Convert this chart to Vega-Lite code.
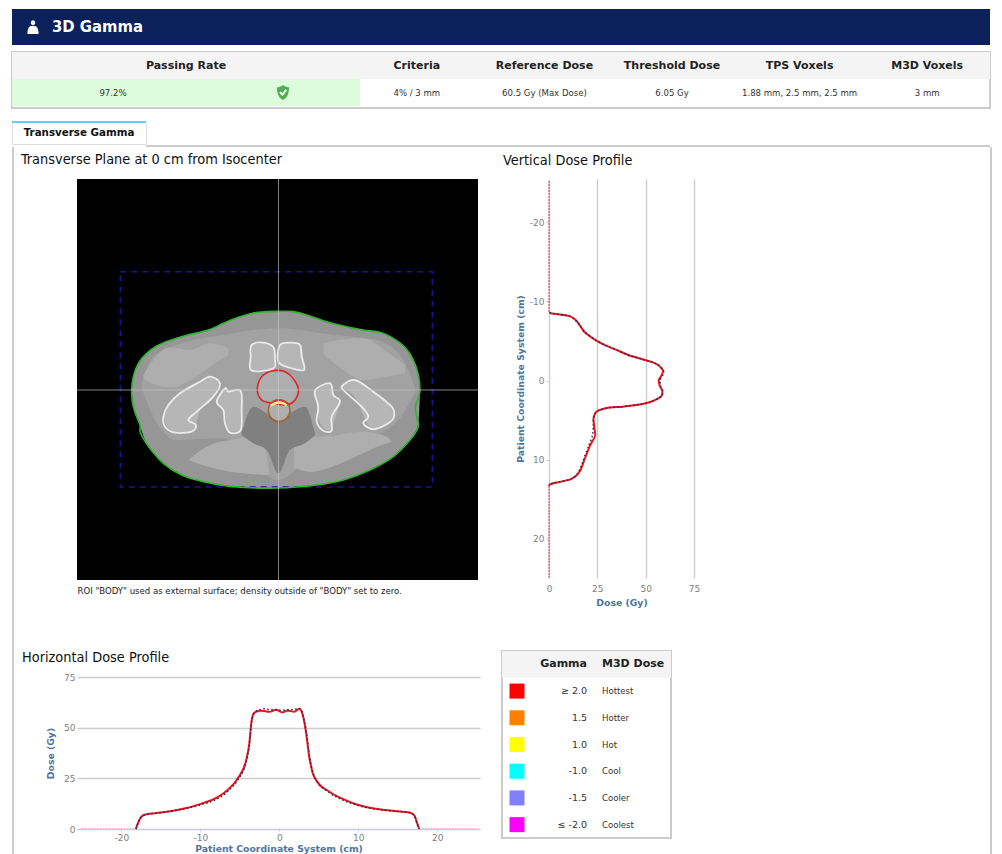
{
"$schema":"https://vega.github.io/schema/vega-lite/v6.json",
"padding":{"left":10,"top":9,"right":10,"bottom":0},
"background":"white",
"spacing":0,
"config":{"view":{"stroke":null},"font":"DejaVu Sans","concat":{"spacing":0},
 "axis":{"labelColor":"#808080","labelFontSize":9,"labelFontWeight":"normal","labelFlush":false,"labelOverlap":false,"labelExpr":"'' + datum.value","titleColor":"#4d759e","titleFontSize":9.3,"titleFontWeight":"bold","tickColor":"#c0d0e0","domainColor":"#c0d0e0","gridColor":"#cccccc","gridWidth":1.4}},
"datasets":{
"table":[{"column":"Criteria","value":"4% / 3 mm"},{"column":"Reference Dose","value":"60.5 Gy (Max Dose)"},{"column":"Threshold Dose","value":"6.05 Gy"},{"column":"TPS Voxels","value":"1.88 mm, 2.5 mm, 2.5 mm"},{"column":"M3D Voxels","value":"3 mm"}],
"legend":[{"gamma":"≥ 2.0","dose":"Hottest"},{"gamma":"1.5","dose":"Hotter"},{"gamma":"1.0","dose":"Hot"},{"gamma":"-1.0","dose":"Cool"},{"gamma":"-1.5","dose":"Cooler"},{"gamma":"≤ -2.0","dose":"Coolest"}],
"verticalTails":[{"part":"top","position":-25.2,"dose":0},{"part":"top","position":-8.6,"dose":0},{"part":"bottom","position":13.3,"dose":0},{"part":"bottom","position":24.9,"dose":0}],
"horizontalTails":[{"part":"left","position":-25,"dose":0.2},{"part":"left","position":-18.14,"dose":0.2},{"part":"right","position":17.7,"dose":0.2},{"part":"right","position":25,"dose":0.2}],
"vertical":[{"position":-8.6,"m3d":0.2,"tps":0.2},{"position":-8.5,"m3d":1,"tps":1},{"position":-8.44,"m3d":2.6,"tps":2.6},{"position":-8.27,"m3d":7.8,"tps":7.6},{"position":-8.1,"m3d":11,"tps":10.8},{"position":-7.8,"m3d":13,"tps":12.8},{"position":-7.4,"m3d":14.7,"tps":14.6},{"position":-6.75,"m3d":16.5,"tps":16.5},{"position":-6.1,"m3d":18.5,"tps":18.5},{"position":-5.06,"m3d":24.3,"tps":24.3},{"position":-4.4,"m3d":29.5,"tps":29.5},{"position":-3.8,"m3d":35.5,"tps":35.5},{"position":-3.16,"m3d":41.6,"tps":41.6},{"position":-2.6,"m3d":49.7,"tps":49.7},{"position":-2.3,"m3d":53.7,"tps":53.7},{"position":-1.9,"m3d":56.8,"tps":57},{"position":-1.27,"m3d":59,"tps":59.3},{"position":-0.63,"m3d":58.2,"tps":58.8},{"position":-0.08,"m3d":56.8,"tps":57.5},{"position":0.63,"m3d":57.2,"tps":57.6},{"position":1.27,"m3d":58.6,"tps":58.8},{"position":1.9,"m3d":58.4,"tps":58.6},{"position":2.3,"m3d":56.3,"tps":56.3},{"position":2.74,"m3d":52,"tps":52},{"position":3.03,"m3d":46.8,"tps":46.8},{"position":3.3,"m3d":38,"tps":38},{"position":3.46,"m3d":30,"tps":30},{"position":3.8,"m3d":25.5,"tps":25.5},{"position":4.13,"m3d":23.9,"tps":23.9},{"position":4.85,"m3d":23,"tps":23},{"position":5.9,"m3d":23.4,"tps":22.9},{"position":6.96,"m3d":23.9,"tps":22.5},{"position":8.44,"m3d":20.8,"tps":20.2},{"position":10.1,"m3d":18.2,"tps":17.7},{"position":11.2,"m3d":16.5,"tps":16.1},{"position":12,"m3d":14.2,"tps":14},{"position":12.45,"m3d":11.3,"tps":11.3},{"position":12.74,"m3d":6.9,"tps":6.9},{"position":12.95,"m3d":2.6,"tps":2.6},{"position":13.16,"m3d":0.3,"tps":0.3},{"position":13.3,"m3d":0,"tps":0}],
"horizontal":[{"position":-18.14,"m3d":0,"tps":0},{"position":-17.85,"m3d":3.3,"tps":3.3},{"position":-17.4,"m3d":6.3,"tps":6.2},{"position":-16.9,"m3d":7.2,"tps":7.1},{"position":-15,"m3d":8.1,"tps":8},{"position":-12.9,"m3d":9.4,"tps":9.3},{"position":-9.9,"m3d":12.4,"tps":12},{"position":-7.8,"m3d":15.7,"tps":15},{"position":-6.5,"m3d":19.4,"tps":18.6},{"position":-5.3,"m3d":24.7,"tps":24},{"position":-4.2,"m3d":33.8,"tps":33},{"position":-3.8,"m3d":42,"tps":41},{"position":-3.5,"m3d":53.5,"tps":53},{"position":-3.16,"m3d":57.3,"tps":57.3},{"position":-2.5,"m3d":58.3,"tps":58.8},{"position":-1.9,"m3d":58.2,"tps":59.3},{"position":-1.27,"m3d":57.8,"tps":59},{"position":-0.42,"m3d":58.8,"tps":58.9},{"position":0.42,"m3d":57.5,"tps":58.6},{"position":1.05,"m3d":58.5,"tps":58.8},{"position":1.9,"m3d":57.8,"tps":59},{"position":2.53,"m3d":59.3,"tps":59.5},{"position":2.95,"m3d":56.5,"tps":57},{"position":3.38,"m3d":47.8,"tps":49},{"position":3.8,"m3d":35.4,"tps":36.5},{"position":4.2,"m3d":28,"tps":28.6},{"position":4.85,"m3d":23,"tps":23},{"position":6.1,"m3d":19,"tps":18.6},{"position":7.8,"m3d":15.2,"tps":14.7},{"position":9.9,"m3d":12,"tps":11.7},{"position":12.4,"m3d":9.9,"tps":9.7},{"position":14.6,"m3d":8.9,"tps":8.8},{"position":16.5,"m3d":8.1,"tps":8},{"position":17.1,"m3d":6.6,"tps":6.6},{"position":17.4,"m3d":3.3,"tps":3.3},{"position":17.7,"m3d":0,"tps":0}],
"regions":[
{"s":"body","t":"fat","c":65,"top":390,"bot":390},{"s":"body","t":"fat","c":70,"top":350,"bot":440},{"s":"body","t":"fat","c":85,"top":310,"bot":483},{"s":"body","t":"fat","c":110,"top":280,"bot":552},{"s":"body","t":"fat","c":140,"top":258,"bot":590},{"s":"body","t":"fat","c":175,"top":243,"bot":620},{"s":"body","t":"fat","c":230,"top":226,"bot":650},{"s":"body","t":"fat","c":295,"top":210,"bot":668},{"s":"body","t":"fat","c":340,"top":190,"bot":676},{"s":"body","t":"fat","c":385,"top":172,"bot":681},{"s":"body","t":"fat","c":430,"top":159,"bot":683},{"s":"body","t":"fat","c":470,"top":155,"bot":684},{"s":"body","t":"fat","c":505,"top":154,"bot":684},{"s":"body","t":"fat","c":550,"top":155,"bot":681},{"s":"body","t":"fat","c":590,"top":165,"bot":677},{"s":"body","t":"fat","c":640,"top":182,"bot":672},{"s":"body","t":"fat","c":700,"top":198,"bot":660},{"s":"body","t":"fat","c":760,"top":210,"bot":638},{"s":"body","t":"fat","c":810,"top":217,"bot":614},{"s":"body","t":"fat","c":850,"top":235,"bot":590},{"s":"body","t":"fat","c":885,"top":262,"bot":555},{"s":"body","t":"fat","c":910,"top":300,"bot":525},{"s":"body","t":"fat","c":925,"top":345,"bot":490},{"s":"body","t":"fat","c":930,"top":390,"bot":400},
{"s":"inner","t":"soft","c":95,"top":370,"bot":385},{"s":"inner","t":"soft","c":130,"top":290,"bot":470},{"s":"inner","t":"soft","c":200,"top":255,"bot":540},{"s":"inner","t":"soft","c":340,"top":225,"bot":535},{"s":"inner","t":"soft","c":505,"top":205,"bot":660},{"s":"inner","t":"soft","c":670,"top":225,"bot":525},{"s":"inner","t":"soft","c":800,"top":240,"bot":520},{"s":"inner","t":"soft","c":880,"top":300,"bot":460},{"s":"inner","t":"soft","c":915,"top":385,"bot":395},
{"s":"flankL","t":"muscle","c":100,"top":345,"bot":355},{"s":"flankL","t":"muscle","c":130,"top":300,"bot":372},{"s":"flankL","t":"muscle","c":180,"top":262,"bot":382},{"s":"flankL","t":"muscle","c":240,"top":270,"bot":362},{"s":"flankL","t":"muscle","c":300,"top":250,"bot":320},{"s":"flankL","t":"muscle","c":355,"top":265,"bot":285},
{"s":"flankR","t":"muscle","c":640,"top":250,"bot":282},{"s":"flankR","t":"muscle","c":700,"top":238,"bot":330},{"s":"flankR","t":"muscle","c":760,"top":235,"bot":360},{"s":"flankR","t":"muscle","c":820,"top":268,"bot":352},{"s":"flankR","t":"muscle","c":885,"top":315,"bot":340},
{"s":"gluteL","t":"muscle","c":235,"top":600,"bot":601},{"s":"gluteL","t":"muscle","c":300,"top":555,"bot":622},{"s":"gluteL","t":"muscle","c":360,"top":540,"bot":635},{"s":"gluteL","t":"muscle","c":420,"top":530,"bot":642},{"s":"gluteL","t":"muscle","c":465,"top":570,"bot":645},{"s":"gluteL","t":"muscle","c":478,"top":640,"bot":642},
{"s":"gluteR","t":"muscle","c":552,"top":555,"bot":622},{"s":"gluteR","t":"muscle","c":600,"top":535,"bot":636},{"s":"gluteR","t":"muscle","c":680,"top":525,"bot":615},{"s":"gluteR","t":"muscle","c":760,"top":515,"bot":580},{"s":"gluteR","t":"muscle","c":830,"top":530,"bot":550},{"s":"gluteR","t":"muscle","c":845,"top":545,"bot":547},
{"s":"triangle","t":"dark","c":395,"top":520,"bot":525},{"s":"triangle","t":"dark","c":430,"top":440,"bot":550},{"s":"triangle","t":"dark","c":470,"top":460,"bot":570},{"s":"triangle","t":"dark","c":505,"top":485,"bot":640},{"s":"triangle","t":"dark","c":540,"top":460,"bot":570},{"s":"triangle","t":"dark","c":585,"top":440,"bot":550},{"s":"triangle","t":"dark","c":615,"top":520,"bot":525},
{"s":"prostate","t":"muscle","c":442,"top":385,"bot":386},{"s":"prostate","t":"muscle","c":460,"top":345,"bot":420},{"s":"prostate","t":"muscle","c":505,"top":331,"bot":432},{"s":"prostate","t":"muscle","c":555,"top":350,"bot":420},{"s":"prostate","t":"muscle","c":566,"top":385,"bot":386},
{"s":"rectum","t":"muscle","c":475,"top":452,"bot":453},{"s":"rectum","t":"muscle","c":490,"top":425,"bot":478},{"s":"rectum","t":"muscle","c":507,"top":420,"bot":485},{"s":"rectum","t":"muscle","c":525,"top":425,"bot":478},{"s":"rectum","t":"muscle","c":540,"top":452,"bot":453},
{"s":"pubisL","t":"bone","c":423,"top":290,"bot":332},{"s":"pubisL","t":"bone","c":425,"top":255,"bot":332},{"s":"pubisL","t":"bone","c":460,"top":250,"bot":328},{"s":"pubisL","t":"bone","c":490,"top":262,"bot":325},{"s":"pubisL","t":"bone","c":495,"top":300,"bot":305},
{"s":"pubisR","t":"bone","c":505,"top":275,"bot":305},{"s":"pubisR","t":"bone","c":510,"top":255,"bot":310},{"s":"pubisR","t":"bone","c":545,"top":248,"bot":322},{"s":"pubisR","t":"bone","c":575,"top":255,"bot":330},{"s":"pubisR","t":"bone","c":582,"top":325,"bot":332},
{"s":"femurL","t":"bone","c":160,"top":470,"bot":472},{"s":"femurL","t":"bone","c":175,"top":435,"bot":505},{"s":"femurL","t":"bone","c":210,"top":400,"bot":518},{"s":"femurL","t":"bone","c":245,"top":375,"bot":515},{"s":"femurL","t":"bone","c":258,"top":370,"bot":495},{"s":"femurL","t":"bone","c":270,"top":365,"bot":450},{"s":"femurL","t":"bone","c":300,"top":350,"bot":425},{"s":"femurL","t":"bone","c":330,"top":368,"bot":372},
{"s":"ischiumL","t":"bone","c":320,"top":425,"bot":427},{"s":"ischiumL","t":"bone","c":345,"top":385,"bot":470},{"s":"ischiumL","t":"bone","c":355,"top":395,"bot":515},{"s":"ischiumL","t":"bone","c":392,"top":393,"bot":510},{"s":"ischiumL","t":"bone","c":396,"top":420,"bot":480},
{"s":"ischiumR","t":"bone","c":615,"top":392,"bot":395},{"s":"ischiumR","t":"bone","c":630,"top":385,"bot":490},{"s":"ischiumR","t":"bone","c":660,"top":370,"bot":512},{"s":"ischiumR","t":"bone","c":670,"top":405,"bot":490},{"s":"ischiumR","t":"bone","c":690,"top":425,"bot":430},
{"s":"femurR","t":"bone","c":700,"top":378,"bot":385},{"s":"femurR","t":"bone","c":735,"top":360,"bot":412},{"s":"femurR","t":"bone","c":775,"top":385,"bot":495},{"s":"femurR","t":"bone","c":790,"top":395,"bot":508},{"s":"femurR","t":"bone","c":835,"top":430,"bot":490},{"s":"femurR","t":"bone","c":852,"top":465,"bot":470}
],
"bones":[
{"b":"pubisL","i":1,"c":425,"r":255},{"b":"pubisL","i":2,"c":460,"r":248},{"b":"pubisL","i":3,"c":490,"r":262},{"b":"pubisL","i":4,"c":495,"r":300},{"b":"pubisL","i":5,"c":490,"r":325},{"b":"pubisL","i":6,"c":425,"r":332},{"b":"pubisL","i":7,"c":422,"r":290},
{"b":"pubisR","i":1,"c":510,"r":255},{"b":"pubisR","i":2,"c":545,"r":248},{"b":"pubisR","i":3,"c":570,"r":255},{"b":"pubisR","i":4,"c":575,"r":290},{"b":"pubisR","i":5,"c":582,"r":330},{"b":"pubisR","i":6,"c":535,"r":322},{"b":"pubisR","i":7,"c":505,"r":305},
{"b":"femurL","i":1,"c":160,"r":470},{"b":"femurL","i":2,"c":175,"r":435},{"b":"femurL","i":3,"c":210,"r":400},{"b":"femurL","i":4,"c":270,"r":365},{"b":"femurL","i":5,"c":300,"r":350},{"b":"femurL","i":6,"c":330,"r":370},{"b":"femurL","i":7,"c":310,"r":410},{"b":"femurL","i":8,"c":260,"r":455},{"b":"femurL","i":9,"c":235,"r":480},{"b":"femurL","i":10,"c":258,"r":495},{"b":"femurL","i":11,"c":245,"r":515},{"b":"femurL","i":12,"c":195,"r":518},{"b":"femurL","i":13,"c":165,"r":500},
{"b":"ischiumL","i":1,"c":320,"r":425},{"b":"ischiumL","i":2,"c":345,"r":385},{"b":"ischiumL","i":3,"c":355,"r":395},{"b":"ischiumL","i":4,"c":392,"r":393},{"b":"ischiumL","i":5,"c":395,"r":450},{"b":"ischiumL","i":6,"c":392,"r":510},{"b":"ischiumL","i":7,"c":360,"r":518},{"b":"ischiumL","i":8,"c":345,"r":490},{"b":"ischiumL","i":9,"c":340,"r":450},
{"b":"ischiumR","i":1,"c":615,"r":392},{"b":"ischiumR","i":2,"c":660,"r":370},{"b":"ischiumR","i":3,"c":670,"r":405},{"b":"ischiumR","i":4,"c":690,"r":425},{"b":"ischiumR","i":5,"c":665,"r":470},{"b":"ischiumR","i":6,"c":665,"r":512},{"b":"ischiumR","i":7,"c":640,"r":512},{"b":"ischiumR","i":8,"c":620,"r":485},{"b":"ischiumR","i":9,"c":625,"r":440},
{"b":"femurR","i":1,"c":700,"r":375},{"b":"femurR","i":2,"c":735,"r":360},{"b":"femurR","i":3,"c":790,"r":395},{"b":"femurR","i":4,"c":845,"r":440},{"b":"femurR","i":5,"c":852,"r":470},{"b":"femurR","i":6,"c":835,"r":490},{"b":"femurR","i":7,"c":790,"r":508},{"b":"femurR","i":8,"c":760,"r":490},{"b":"femurR","i":9,"c":775,"r":470},{"b":"femurR","i":10,"c":755,"r":440},{"b":"femurR","i":11,"c":700,"r":390}
],
"contours":[
{"o":"body","i":1,"c":65,"r":390},{"o":"body","i":2,"c":70,"r":350},{"o":"body","i":3,"c":85,"r":310},{"o":"body","i":4,"c":110,"r":280},{"o":"body","i":5,"c":140,"r":258},{"o":"body","i":6,"c":175,"r":243},{"o":"body","i":7,"c":230,"r":226},{"o":"body","i":8,"c":295,"r":210},{"o":"body","i":9,"c":340,"r":190},{"o":"body","i":10,"c":385,"r":172},{"o":"body","i":11,"c":430,"r":159},{"o":"body","i":12,"c":470,"r":155},{"o":"body","i":13,"c":505,"r":154},{"o":"body","i":14,"c":550,"r":155},{"o":"body","i":15,"c":590,"r":165},{"o":"body","i":16,"c":640,"r":182},{"o":"body","i":17,"c":700,"r":198},{"o":"body","i":18,"c":760,"r":210},{"o":"body","i":19,"c":810,"r":217},{"o":"body","i":20,"c":850,"r":235},{"o":"body","i":21,"c":885,"r":262},{"o":"body","i":22,"c":910,"r":300},{"o":"body","i":23,"c":925,"r":345},{"o":"body","i":24,"c":930,"r":390},{"o":"body","i":25,"c":925,"r":415},{"o":"body","i":26,"c":916,"r":440},{"o":"body","i":27,"c":920,"r":470},{"o":"body","i":28,"c":925,"r":500},{"o":"body","i":29,"c":900,"r":540},{"o":"body","i":30,"c":850,"r":590},{"o":"body","i":31,"c":780,"r":630},{"o":"body","i":32,"c":700,"r":660},{"o":"body","i":33,"c":620,"r":675},{"o":"body","i":34,"c":505,"r":684},{"o":"body","i":35,"c":370,"r":680},{"o":"body","i":36,"c":280,"r":665},{"o":"body","i":37,"c":215,"r":645},{"o":"body","i":38,"c":160,"r":610},{"o":"body","i":39,"c":120,"r":565},{"o":"body","i":40,"c":92,"r":520},{"o":"body","i":41,"c":90,"r":495},{"o":"body","i":42,"c":78,"r":465},{"o":"body","i":43,"c":68,"r":430},
{"o":"prostate","i":1,"c":505,"r":331},{"o":"prostate","i":2,"c":540,"r":345},{"o":"prostate","i":3,"c":565,"r":385},{"o":"prostate","i":4,"c":555,"r":420},{"o":"prostate","i":5,"c":530,"r":435},{"o":"prostate","i":6,"c":490,"r":430},{"o":"prostate","i":7,"c":455,"r":420},{"o":"prostate","i":8,"c":442,"r":385},{"o":"prostate","i":9,"c":460,"r":345},
{"o":"rectum","i":1,"c":507,"r":420},{"o":"rectum","i":2,"c":530,"r":428},{"o":"rectum","i":3,"c":540,"r":452},{"o":"rectum","i":4,"c":530,"r":475},{"o":"rectum","i":5,"c":507,"r":485},{"o":"rectum","i":6,"c":485,"r":475},{"o":"rectum","i":7,"c":475,"r":452},{"o":"rectum","i":8,"c":484,"r":428}
],
"hot":[{"g":"red","c":480,"r":434},{"g":"red","c":495,"r":423},{"g":"red","c":507,"r":420},{"g":"red","c":520,"r":423},{"g":"red","c":535,"r":434},{"g":"yellow","c":482,"r":437},{"g":"yellow","c":495,"r":430},{"g":"yellow","c":507,"r":428},{"g":"yellow","c":520,"r":430},{"g":"yellow","c":530,"r":437}]
},
"vconcat":[
{"width":978,"height":36,"view":{"fill":"#0a215c"},"data":{"values":[{"title":"3D Gamma"}]},"layer":[
 {"mark":{"type":"point","shape":"M-0.32,-0.62 A0.32,0.36 0 1 1 0.32,-0.62 A0.32,0.36 0 1 1 -0.32,-0.62 Z M-0.8,1 C-0.8,0.1 -0.5,-0.15 -0.2,-0.15 L0.2,-0.15 C0.5,-0.15 0.8,0.1 0.8,1 Z","filled":true,"fill":"#ffffff","opacity":1,"size":196},"encoding":{"x":{"datum":"icon","type":"nominal","scale":{"type":"band","range":[16,26]},"axis":null}}},
 {"mark":{"type":"text","align":"left","fontSize":16.5,"font":"DejaVu Sans Condensed","fontWeight":"bold","color":"#ffffff"},"encoding":{"text":{"field":"title"},"x":{"datum":"title","type":"nominal","scale":{"type":"band","range":[38,42]},"axis":null}}}
 ],"resolve":{"scale":{"x":"independent"}}},
{"width":1,"height":6,"data":{"values":[]},"mark":"rect","encoding":{}},
{"width":978,"height":56,"view":{"stroke":"#cccccc","strokeWidth":2},"data":{"name":"table"},"resolve":{"scale":{"x":"independent"}},"layer":[
 {"data":{"values":[{"row":"Header"}]},"mark":{"type":"rect","color":"#f4f4f4"},"encoding":{"y":{"field":"row","type":"nominal","scale":{"type":"band","domain":["Header","Value"],"range":[0,54]},"axis":null}}},
 {"data":{"values":[{"rate":97.2,"row":"Value"}]},"mark":{"type":"rect","color":"#dcfcdc"},"encoding":{"y":{"field":"row","type":"nominal","scale":{"type":"band","domain":["Header","Value"],"range":[0,54]},"axis":null},"x":{"datum":0,"type":"quantitative","scale":{"domain":[0,100],"range":[0,348]},"axis":null},"x2":{"datum":100}}},
 {"data":{"values":[{"row":"Header","label":"Passing Rate"}]},"mark":{"type":"text","fontSize":11,"fontWeight":"bold","color":"#222222"},"encoding":{"text":{"field":"label"},"x":{"field":"label","type":"nominal","scale":{"type":"band","range":[0,348]},"axis":null},"y":{"field":"row","type":"nominal","scale":{"type":"band","domain":["Header","Value"],"range":[0,54]},"axis":null}}},
 {"data":{"values":[{"row":"Value","label":"97.2%"}]},"mark":{"type":"text","fontSize":9.5,"font":"DejaVu Sans Condensed","color":"#333333"},"encoding":{"text":{"field":"label"},"x":{"datum":"rate","type":"nominal","scale":{"type":"band","domain":["rate","shield"],"range":[16,356]},"axis":null},"y":{"field":"row","type":"nominal","scale":{"type":"band","domain":["Header","Value"],"range":[0,54]},"axis":null}}},
 {"data":{"values":[{"row":"Value"}]},"mark":{"type":"point","shape":"M0,-1 C0.3,-0.75 0.6,-0.7 0.8,-0.7 C0.8,0.1 0.6,0.7 0,1 C-0.6,0.7 -0.8,0.1 -0.8,-0.7 C-0.6,-0.7 -0.3,-0.75 0,-1 Z","filled":true,"fill":"#4caf50","opacity":1,"size":225},"encoding":{"x":{"datum":"shield","type":"nominal","scale":{"type":"band","domain":["rate","shield"],"range":[16,356]},"axis":null},"y":{"field":"row","type":"nominal","scale":{"type":"band","domain":["Header","Value"],"range":[0,54]},"axis":null}}},
 {"data":{"values":[{"row":"Value"}]},"mark":{"type":"point","shape":"M-0.4,-0.05 L-0.08,0.3 L0.42,-0.35","filled":false,"stroke":"#ffffff","strokeWidth":2,"opacity":1,"size":225},"encoding":{"x":{"datum":"shield","type":"nominal","scale":{"type":"band","domain":["rate","shield"],"range":[16,356]},"axis":null},"y":{"field":"row","type":"nominal","scale":{"type":"band","domain":["Header","Value"],"range":[0,54]},"axis":null}}},
 {"mark":{"type":"text","fontSize":11,"fontWeight":"bold","color":"#222222"},"encoding":{"text":{"field":"column"},"x":{"field":"column","type":"nominal","sort":null,"scale":{"type":"band","domain":["Criteria","Reference Dose","Threshold Dose","TPS Voxels","M3D Voxels"],"range":[341,979]},"axis":null},"y":{"datum":"Header","type":"nominal","scale":{"type":"band","domain":["Header","Value"],"range":[0,54]},"axis":null}}},
 {"mark":{"type":"text","fontSize":9.5,"font":"DejaVu Sans Condensed","color":"#333333"},"encoding":{"text":{"field":"value"},"x":{"field":"column","type":"nominal","sort":null,"scale":{"type":"band","domain":["Criteria","Reference Dose","Threshold Dose","TPS Voxels","M3D Voxels"],"range":[341,979]},"axis":null},"y":{"datum":"Value","type":"nominal","scale":{"type":"band","domain":["Header","Value"],"range":[0,54]},"axis":null}}}
 ]},
{"width":1,"height":11,"data":{"values":[]},"mark":"rect","encoding":{}},
{"width":134,"height":22,"view":{"stroke":"#dddddd","strokeWidth":1},"data":{"values":[{"tab":"Transverse Gamma"}]},"layer":[
 {"mark":{"type":"text","fontSize":10.3,"fontWeight":"bold","color":"#111111"},"encoding":{"text":{"field":"tab"}}},
 {"mark":{"type":"rule","color":"#66ccff","strokeWidth":2},"encoding":{"y":{"datum":"top","type":"nominal","scale":{"type":"point","range":[0,0]},"axis":null}}}
 ]},
{"hconcat":[
 {"width":134,"height":2,"data":{"values":[]},"mark":"rect","encoding":{}},
 {"width":844,"height":2,"view":{"fill":"#cccccc"},"data":{"values":[]},"mark":"rect","encoding":{}}
 ],"spacing":0},
{"spacing":0,"hconcat":[
 {"width":2,"height":707,"view":{"fill":"#cccccc"},"data":{"values":[]},"mark":"rect","encoding":{}},
 {"width":7,"height":1,"data":{"values":[]},"mark":"rect","encoding":{}},
 {"spacing":0,"vconcat":[
  {"width":1,"height":5,"data":{"values":[]},"mark":"rect","encoding":{}},
  {"width":401,"height":401,"view":{"fill":"#000000"},
   "title":{"text":"Transverse Plane at 0 cm from Isocenter","anchor":"start","frame":"group","dx":-56,"offset":11,"font":"DejaVu Sans Condensed","fontSize":14.4,"fontWeight":"normal","color":"#111111"},
   "layer":[
   {"data":{"name":"regions"},"mark":{"type":"area","interpolate":"monotone","opacity":1},"encoding":{
     "x":{"field":"c","type":"quantitative","scale":{"domain":[-99,1104],"nice":false,"zero":false},"axis":{"title":"ROI \"BODY\" used as external surface; density outside of \"BODY\" set to zero.","titleFont":"DejaVu Sans Condensed","titleFontWeight":"normal","titleFontSize":9.5,"titleColor":"#222222","titleAnchor":"start","titlePadding":5,"labels":false,"ticks":false,"domain":false,"grid":false}},
     "y":{"field":"top","type":"quantitative","scale":{"domain":[960,-243],"nice":false,"zero":false},"axis":null},
     "y2":{"field":"bot"},
     "detail":{"field":"s"},
     "color":{"field":"t","type":"nominal","scale":{"domain":["fat","soft","muscle","dark","bone"],"range":["#969696","#a2a2a2","#aeaeae","#808080","#b6b6b6"]},"legend":null}}},
   {"data":{"name":"bones"},"mark":{"type":"line","interpolate":"cardinal-closed","strokeWidth":1.8,"color":"#f2f2f2","opacity":0.9},"encoding":{"x":{"field":"c","type":"quantitative"},"y":{"field":"r","type":"quantitative"},"detail":{"field":"b"},"order":{"field":"i"}}},
   {"data":{"values":[{"left":31,"right":967,"top":35,"bottom":681}]},"mark":{"type":"rect","fillOpacity":0,"stroke":"#16169c","strokeWidth":1.5,"strokeDash":[6,5]},"encoding":{"x":{"field":"left","type":"quantitative"},"x2":{"field":"right"},"y":{"field":"top","type":"quantitative"},"y2":{"field":"bottom"}}},
   {"data":{"name":"contours"},"mark":{"type":"line","interpolate":"cardinal-closed","strokeWidth":1.6},"encoding":{"x":{"field":"c","type":"quantitative"},"y":{"field":"r","type":"quantitative"},"detail":{"field":"o"},"order":{"field":"i"},"color":{"field":"o","type":"nominal","scale":{"domain":["body","prostate","rectum"],"range":["#2fb52f","#e02424","#a8642c"]},"legend":null}}},
   {"data":{"name":"hot"},"mark":{"type":"line","interpolate":"monotone","strokeWidth":2.2},"encoding":{"x":{"field":"c","type":"quantitative"},"y":{"field":"r","type":"quantitative"},"detail":{"field":"g"},"stroke":{"field":"g","type":"nominal","scale":{"domain":["red","yellow"],"range":["#e03030","#ffee88"]},"legend":null}}},
   {"data":{"values":[{"c":505.5,"r":390}]},"mark":{"type":"rule","color":"#c8c8c8","opacity":0.65,"strokeWidth":1},"encoding":{"x":{"field":"c","type":"quantitative"}}},
   {"data":{"values":[{"c":505.5,"r":390}]},"mark":{"type":"rule","color":"#c8c8c8","opacity":0.65,"strokeWidth":1},"encoding":{"y":{"field":"r","type":"quantitative"}}}
   ],"resolve":{"scale":{"color":"independent"}}},
  {"width":1,"height":53.5,"data":{"values":[]},"mark":"rect","encoding":{}},
  {"width":403,"height":152,
   "title":{"text":"Horizontal Dose Profile","anchor":"start","frame":"group","dx":-55,"offset":8,"font":"DejaVu Sans Condensed","fontSize":14.4,"fontWeight":"normal","color":"#111111"},
   "encoding":{"x":{"field":"position","type":"quantitative","scale":{"domain":[-25.6,25.4],"nice":false,"zero":false},"axis":{"title":"Patient Coordinate System (cm)","values":[-20,-10,0,10,20],"grid":false,"tickSize":2,"titlePadding":2}}},
   "layer":[
   {"data":{"name":"horizontalTails"},"mark":{"type":"line","color":"#f4a0a8","strokeWidth":1,"strokeDash":[1.5,1.5]},"encoding":{"detail":{"field":"part"},"y":{"field":"dose","type":"quantitative","scale":{"domain":[0,75],"nice":false},"axis":{"title":"Dose (Gy)","values":[0,25,50,75],"grid":true,"domain":false,"ticks":false,"titlePadding":8}}}},
   {"data":{"name":"horizontal"},"mark":{"type":"line","color":"#f01414","strokeWidth":2,"interpolate":"monotone"},"encoding":{"y":{"field":"m3d","type":"quantitative"}}},
   {"data":{"name":"horizontal"},"mark":{"type":"line","color":"#1c2a6e","strokeWidth":1.5,"strokeDash":[1.5,2.5],"interpolate":"monotone"},"encoding":{"y":{"field":"tps","type":"quantitative"}}}
   ]}
 ]},
 {"width":21,"height":1,"data":{"values":[]},"mark":"rect","encoding":{}},
 {"spacing":0,"vconcat":[
  {"width":1,"height":5,"data":{"values":[]},"mark":"rect","encoding":{}},
  {"spacing":0,"hconcat":[
   {"width":1,"height":1,"data":{"values":[]},"mark":"rect","encoding":{}},
   {"width":145,"height":399,
    "title":{"text":"Vertical Dose Profile","anchor":"start","frame":"group","dx":-46,"offset":11,"font":"DejaVu Sans Condensed","fontSize":14.4,"fontWeight":"normal","color":"#111111"},
    "encoding":{"y":{"field":"position","type":"quantitative","scale":{"domain":[-25.45,24.94],"nice":false,"zero":false,"reverse":true},"axis":{"title":"Patient Coordinate System (cm)","values":[-20,-10,0,10,20],"grid":false,"tickSize":3,"titlePadding":4}},"order":{"field":"position"}},
    "layer":[
    {"data":{"name":"verticalTails"},"mark":{"type":"line","color":"#d03050","strokeWidth":1,"strokeDash":[2,1]},"encoding":{"detail":{"field":"part"},"x":{"field":"dose","type":"quantitative","scale":{"domain":[0,75],"nice":false},"axis":{"title":"Dose (Gy)","values":[0,25,50,75],"grid":true,"domain":false,"ticks":false,"labelPadding":6,"titlePadding":5}}}},
    {"data":{"name":"vertical"},"mark":{"type":"line","color":"#f01414","strokeWidth":2,"interpolate":"cardinal","tension":0.6},"encoding":{"x":{"field":"m3d","type":"quantitative"}}},
    {"data":{"name":"vertical"},"mark":{"type":"line","color":"#1c2a6e","strokeWidth":1.5,"strokeDash":[1.5,2.5],"interpolate":"cardinal","tension":0.6},"encoding":{"x":{"field":"tps","type":"quantitative"}}}
    ]}
  ]},
  {"width":1,"height":42,"data":{"values":[]},"mark":"rect","encoding":{}},
  {"width":169,"height":187,"view":{"stroke":"#cccccc","strokeWidth":2},
   "resolve":{"scale":{"x":"independent"}},
   "encoding":{"y":{"field":"gamma","type":"nominal","scale":{"type":"band","domain":["Header","≥ 2.0","1.5","1.0","-1.0","-1.5","≤ -2.0"]},"axis":null}},
   "layer":[
   {"data":{"values":[{"gamma":"Header"}]},"mark":{"type":"rect","color":"#f4f4f4"}},
   {"data":{"name":"legend"},"mark":{"type":"square","size":225,"opacity":1},"encoding":{"x":{"datum":"swatch","type":"nominal","scale":{"type":"band","range":[5,25]},"axis":null},"color":{"field":"gamma","type":"nominal","scale":{"domain":["≥ 2.0","1.5","1.0","-1.0","-1.5","≤ -2.0"],"range":["#ff0000","#ff8000","#ffff00","#00ffff","#8080ff","#ff00ff"]},"legend":null}}},
   {"data":{"name":"legend"},"mark":{"type":"text","align":"right","fontSize":9.5,"color":"#333333"},"encoding":{"text":{"field":"gamma"},"x":{"datum":"gamma","type":"nominal","scale":{"type":"band","range":[80,90]},"axis":null}}},
   {"data":{"name":"legend"},"mark":{"type":"text","align":"left","fontSize":9.5,"font":"DejaVu Sans Condensed","color":"#333333"},"encoding":{"text":{"field":"dose"},"x":{"datum":"dose","type":"nominal","scale":{"type":"band","range":[95,105]},"axis":null}}},
   {"data":{"values":[{"gamma":"Header","label":"Gamma"}]},"mark":{"type":"text","align":"right","fontSize":11,"fontWeight":"bold","color":"#222222"},"encoding":{"text":{"field":"label"},"x":{"datum":"gamma","type":"nominal","scale":{"type":"band","range":[80,90]},"axis":null}}},
   {"data":{"values":[{"gamma":"Header","label":"M3D Dose"}]},"mark":{"type":"text","align":"left","fontSize":11,"fontWeight":"bold","color":"#222222"},"encoding":{"text":{"field":"label"},"x":{"datum":"dose","type":"nominal","scale":{"type":"band","range":[95,105]},"axis":null}}}
   ]}
 ]},
 {"width":290,"height":1,"data":{"values":[]},"mark":"rect","encoding":{}},
 {"width":2,"height":707,"view":{"fill":"#cccccc"},"data":{"values":[]},"mark":"rect","encoding":{}}
 ]}
]}
